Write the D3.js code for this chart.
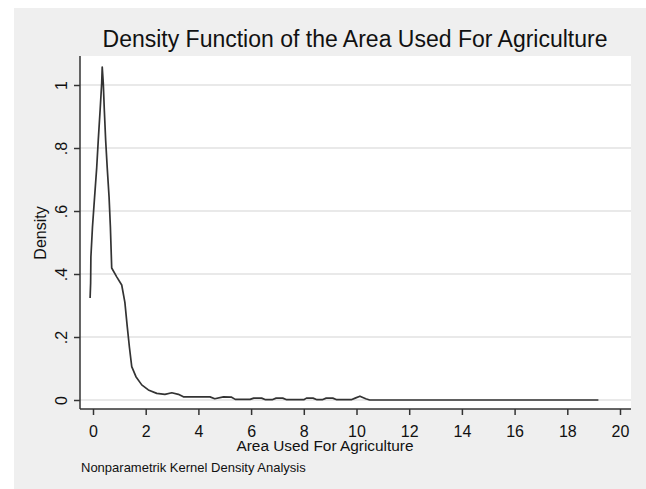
<!DOCTYPE html>
<html>
<head>
<meta charset="utf-8">
<script src="https://cdn.jsdelivr.net/npm/d3@7"></script>
<style>
  html, body { margin: 0; padding: 0; background: #fff; }
  text { font-family: Arial, "Liberation Sans", sans-serif; fill: #111; }
</style>
</head>
<body>
<svg id="chart" width="646" height="489"></svg>
<script>
// kernel density estimate
const area = [
  -0.11, -0.09, -0.08, -0.02, 0.06, 0.14, 0.20, 0.27, 0.33, 0.35,
  0.39, 0.43, 0.48, 0.54, 0.61, 0.66, 0.71, 0.90, 1.09, 1.21,
  1.30, 1.38, 1.47, 1.63, 1.85, 2.10, 2.42, 2.73, 2.99, 3.24,
  3.43, 4.44, 4.62, 4.95, 5.26, 5.40, 5.96, 6.10, 6.40, 6.55,
  6.80, 6.95, 7.20, 7.35, 8.00, 8.10, 8.35, 8.50, 8.70, 8.85,
  9.10, 9.25, 9.80, 9.95, 10.13, 10.35, 10.50, 19.18
];
const density = [
  0.324, 0.371, 0.454, 0.549, 0.644, 0.737, 0.825, 0.920, 1.006, 1.057,
  1.006, 0.920, 0.825, 0.737, 0.644, 0.549, 0.419, 0.391, 0.365, 0.310,
  0.233, 0.169, 0.106, 0.074, 0.048, 0.032, 0.021, 0.018, 0.023, 0.018,
  0.010, 0.010, 0.004, 0.010, 0.009, 0.002, 0.002, 0.006, 0.006, 0.001,
  0.001, 0.006, 0.006, 0.001, 0.001, 0.006, 0.006, 0.001, 0.001, 0.006,
  0.006, 0.001, 0.001, 0.006, 0.012, 0.004, 0.000, 0.000
];
const xTicks = [0, 2, 4, 6, 8, 10, 12, 14, 16, 18, 20];
const yTicks = [0, 0.2, 0.4, 0.6, 0.8, 1];
const yTickLabels = ['0', '.2', '.4', '.6', '.8', '1'];

const title = 'Density Function of the Area Used For Agriculture';
const xTitle = 'Area Used For Agriculture';
const yTitle = 'Density';
const note = 'Nonparametrik Kernel Density Analysis';

const width = 646, height = 489;
const plot = { left: 80, right: 631, top: 56, bottom: 409 };

const svg = d3.select('#chart');

// outer graph region
svg.append('rect')
  .attr('x', 14).attr('y', 8)
  .attr('width', width - 14).attr('height', height - 8)
  .attr('fill', '#efefef');

// plot region
svg.append('rect')
  .attr('x', plot.left).attr('y', plot.top)
  .attr('width', plot.right - plot.left).attr('height', plot.bottom - plot.top)
  .attr('fill', '#fff');

const x = d3.scaleLinear([0, 20], [93, 620]);
const y = d3.scaleLinear([0, 1], [400, 85]);

// grid
svg.append('g')
  .selectAll('line')
  .data(yTicks)
  .join('line')
    .attr('x1', plot.left).attr('x2', plot.right)
    .attr('y1', d => y(d)).attr('y2', d => y(d))
    .attr('stroke', '#e9e9e9')
    .attr('stroke-width', 2);

// density line
const line = d3.line()
  .x((d, i) => x(area[i]))
  .y(d => y(d));
svg.append('path')
  .attr('d', line(density))
  .attr('fill', 'none')
  .attr('stroke', '#333')
  .attr('stroke-width', 1.7)
  .attr('stroke-linejoin', 'round');

// axes
const xAxis = d3.axisBottom(x).tickValues(xTicks).tickSize(6).tickSizeOuter(0);
svg.append('g')
  .attr('transform', `translate(0, ${plot.bottom})`)
  .call(xAxis)
  .call(g => g.select('.domain').remove())
  .call(g => g.selectAll('.tick line').attr('stroke', '#333').attr('stroke-width', 1.5))
  .call(g => g.selectAll('.tick text')
    .attr('y', 28).attr('dy', 0)
    .attr('font-size', 16)
    .attr('font-family', 'Arial, "Liberation Sans", sans-serif')
    .attr('fill', '#111'));

const yAxis = d3.axisLeft(y).tickValues(yTicks)
  .tickFormat((d, i) => yTickLabels[i]).tickSize(6).tickSizeOuter(0);
svg.append('g')
  .attr('transform', `translate(${plot.left}, 0)`)
  .call(yAxis)
  .call(g => g.select('.domain').remove())
  .call(g => g.selectAll('.tick line').attr('stroke', '#333').attr('stroke-width', 1.5))
  .call(g => g.selectAll('.tick text')
    .attr('x', 0).attr('dy', 0)
    .attr('transform', 'translate(-13, 0) rotate(-90)')
    .attr('text-anchor', 'middle')
    .attr('font-size', 16)
    .attr('font-family', 'Arial, "Liberation Sans", sans-serif')
    .attr('fill', '#111'));

// axis lines
svg.append('line')
  .attr('x1', plot.left).attr('x2', plot.right)
  .attr('y1', plot.bottom).attr('y2', plot.bottom)
  .attr('stroke', '#333').attr('stroke-width', 1.5);
svg.append('line')
  .attr('x1', plot.left).attr('x2', plot.left)
  .attr('y1', plot.top).attr('y2', plot.bottom)
  .attr('stroke', '#333').attr('stroke-width', 1.5);

// titles
svg.append('text')
  .attr('x', 355).attr('y', 47)
  .attr('text-anchor', 'middle')
  .attr('font-size', 23)
  .text(title);

svg.append('text')
  .attr('x', 325).attr('y', 451)
  .attr('text-anchor', 'middle')
  .attr('font-size', 15.4)
  .text(xTitle);

svg.append('text')
  .attr('transform', 'translate(46, 233) rotate(-90)')
  .attr('text-anchor', 'middle')
  .attr('font-size', 16)
  .text(yTitle);

svg.append('text')
  .attr('x', 81).attr('y', 472)
  .attr('font-size', 13)
  .text(note);
</script>
</body>
</html>
